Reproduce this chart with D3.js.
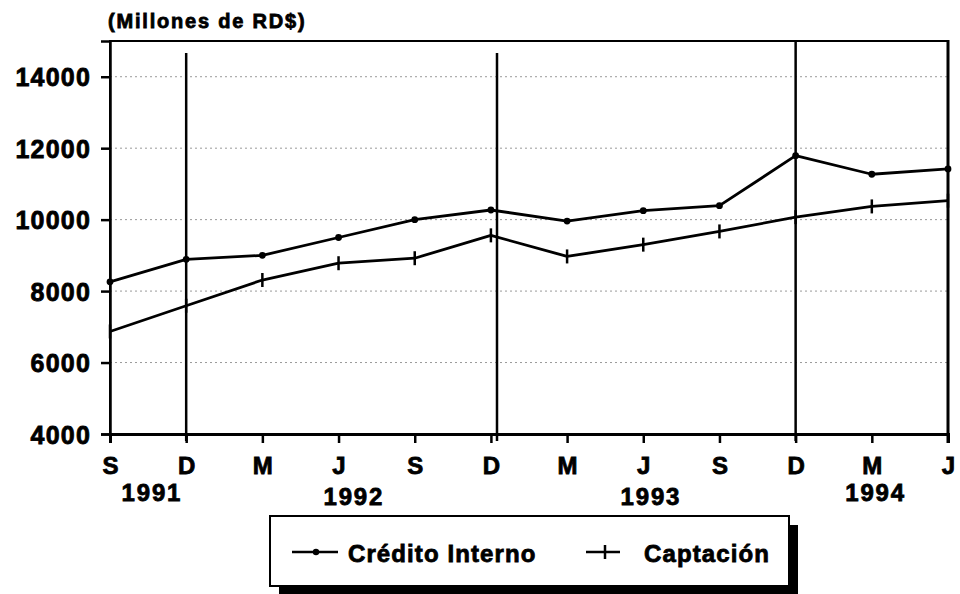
<!DOCTYPE html>
<html>
<head>
<meta charset="utf-8">
<script src="https://cdn.jsdelivr.net/npm/d3@7/dist/d3.min.js"></script>
<style>
  html, body { margin: 0; padding: 0; background: #fff; }
  svg { display: block; }
  text { font-family: "Liberation Sans", Arial, Helvetica, sans-serif; font-weight: bold; fill: #000; stroke: #000; stroke-width: 0.8px; }
</style>
</head>
<body>
<svg id="chart" width="960" height="594"></svg>
<script>
// ---- data ----
const periods = ["S", "D", "M", "J", "S", "D", "M", "J", "S", "D", "M", "J"];
const credito = [8260, 8890, 9000, 9500, 10000, 10270, 9960, 10250, 10390, 11790, 11270, 11420];
const captacion = [6870, 7590, 8310, 8780, 8920, 9560, 8970, 9300, 9670, 10070, 10370, 10530];
const yTicks = [4000, 6000, 8000, 10000, 12000, 14000];
const years = ["1991", "1992", "1993", "1994"];
const yearPos = [0.55, 3.2, 7.1, 10.05];      // label centres, in period index units
const yearBreaks = [1, 5.08, 9];             // vertical separator lines, period index units
const seriesNames = ["Crédito Interno", "Captación"];
const title = "(Millones de RD$)";

// ---- layout ----
const svg = d3.select("#chart");
const L = 110, R = 948, T = 41, B = 434;
const x = d3.scaleLinear().domain([0, periods.length - 1]).range([L, R]);
const y = d3.scaleLinear().domain([4000, 15000]).range([B, T]);

// gridlines
svg.append("g").selectAll("line")
  .data(yTicks.filter(d => d > 4000))
  .join("line")
  .attr("x1", L).attr("x2", R)
  .attr("y1", d => y(d)).attr("y2", d => y(d))
  .attr("stroke", "#999").attr("stroke-width", 1)
  .attr("stroke-dasharray", "2,3");

// frame
svg.append("rect")
  .attr("x", L).attr("y", T).attr("width", R - L).attr("height", B - T)
  .attr("fill", "none").attr("stroke", "#000").attr("stroke-width", 2);
svg.append("line").attr("x1", R).attr("x2", R).attr("y1", T - 1).attr("y2", B + 9)
  .attr("stroke", "#000").attr("stroke-width", 3);

// y axis
const yAxis = d3.axisLeft(y).tickValues(yTicks).tickSize(9).tickPadding(10).tickFormat(d3.format("d"));
const gy = svg.append("g").attr("transform", `translate(${L},0)`).call(yAxis);
gy.select(".domain").attr("stroke-width", 2.5);
gy.selectAll(".tick line").attr("stroke-width", 2.5);
gy.selectAll(".tick text")
  .style("font-size", "25px").style("letter-spacing", "1.2px")
  .attr("dy", "0.36em");

// x axis
const xAxis = d3.axisBottom(x).tickValues(d3.range(periods.length)).tickSize(9).tickPadding(14)
  .tickFormat(i => periods[i]);
const gx = svg.append("g").attr("transform", `translate(0,${B})`).call(xAxis);
gx.select(".domain").attr("stroke-width", 3);
gx.selectAll(".tick line").attr("stroke-width", 2.5);
gx.selectAll(".tick text").style("font-size", "24px").attr("dy", "0.71em");

// year labels
svg.append("g").selectAll("text")
  .data(years)
  .join("text")
  .attr("x", (d, i) => x(yearPos[i]))
  .attr("y", (d, i) => (i === 1 || i === 2) ? 505 : 501)
  .attr("text-anchor", "middle")
  .style("font-size", "24px").style("letter-spacing", "1.8px")
  .text(d => d);

// year separators
svg.append("g").selectAll("line")
  .data(yearBreaks)
  .join("line")
  .attr("x1", d => x(d)).attr("x2", d => x(d))
  .attr("y1", (d, i) => i === 2 ? T : 53).attr("y2", B + 7)
  .attr("stroke", "#000").attr("stroke-width", 2.5);

// title
svg.append("text").attr("x", 108).attr("y", 28)
  .style("font-size", "20px").style("letter-spacing", "1.8px")
  .text(title);

// lines
const line = d3.line().x((d, i) => x(i)).y(d => y(d));
svg.append("path").datum(credito).attr("d", line)
  .attr("fill", "none").attr("stroke", "#000").attr("stroke-width", 2.8).attr("stroke-linejoin", "round");
svg.append("path").datum(captacion).attr("d", line)
  .attr("fill", "none").attr("stroke", "#000").attr("stroke-width", 2.8).attr("stroke-linejoin", "round");

// markers
svg.append("g").selectAll("circle")
  .data(credito)
  .join("circle")
  .attr("cx", (d, i) => x(i)).attr("cy", d => y(d)).attr("r", 3.4).attr("fill", "#000");
svg.append("g").selectAll("line")
  .data(captacion)
  .join("line")
  .attr("x1", (d, i) => x(i)).attr("x2", (d, i) => x(i))
  .attr("y1", d => y(d) - 7).attr("y2", d => y(d) + 7)
  .attr("stroke", "#000").attr("stroke-width", 2.5);

// legend
const lg = svg.append("g");
lg.append("rect").attr("x", 279).attr("y", 525).attr("width", 519).attr("height", 70).attr("fill", "#000");
lg.append("rect").attr("x", 270).attr("y", 516).attr("width", 519).attr("height", 70)
  .attr("fill", "#fff").attr("stroke", "#000").attr("stroke-width", 2);
// item 1
lg.append("line").attr("x1", 292).attr("x2", 338).attr("y1", 552).attr("y2", 552)
  .attr("stroke", "#000").attr("stroke-width", 2.5);
lg.append("circle").attr("cx", 316).attr("cy", 552).attr("r", 3.2).attr("fill", "#000");
lg.append("text").attr("x", 348).attr("y", 562)
  .style("font-size", "24px").style("letter-spacing", "1.1px").text(seriesNames[0]);
// item 2
lg.append("line").attr("x1", 586).attr("x2", 620).attr("y1", 552).attr("y2", 552)
  .attr("stroke", "#000").attr("stroke-width", 2.5);
lg.append("line").attr("x1", 605).attr("x2", 605).attr("y1", 545).attr("y2", 559)
  .attr("stroke", "#000").attr("stroke-width", 2.5);
lg.append("text").attr("x", 644).attr("y", 562)
  .style("font-size", "24px").style("letter-spacing", "1.1px").text(seriesNames[1]);
</script>
</body>
</html>
